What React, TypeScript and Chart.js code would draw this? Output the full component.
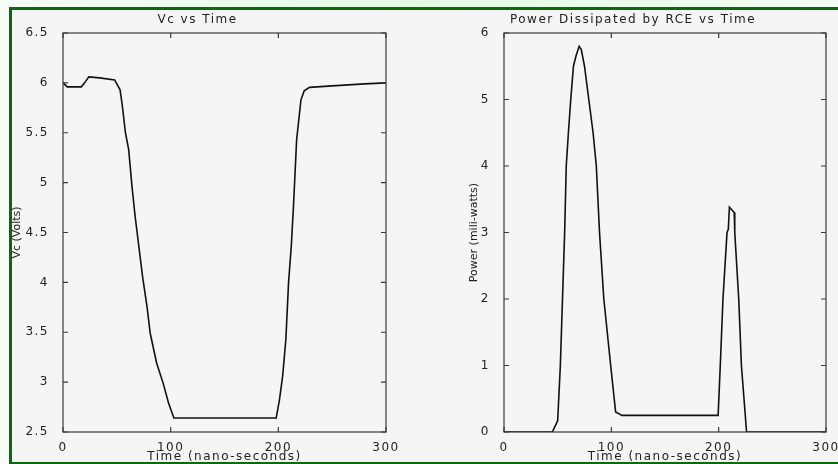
import React, { useEffect, useRef } from "react";
import { Chart, registerables } from "chart.js";

Chart.register(...registerables);

// ---- Data ----
const vcTime = [0, 4, 17, 20, 24, 34, 48, 53, 55, 58, 61, 64, 67, 70, 74, 78, 81, 87, 93, 98, 103, 198, 201, 204, 207, 209.5, 212, 214, 217, 221, 224, 229, 250, 280, 300];
const vcVolts = [6.0, 5.96, 5.96, 6.0, 6.06, 6.05, 6.03, 5.93, 5.78, 5.5, 5.33, 4.97, 4.66, 4.4, 4.05, 3.76, 3.49, 3.19, 2.99, 2.79, 2.64, 2.64, 2.82, 3.06, 3.43, 4.0, 4.36, 4.75, 5.43, 5.83, 5.92, 5.955, 5.97, 5.99, 6.0];

const pTime = [0, 45, 50, 52.5, 54.5, 56.5, 58, 60, 62.2, 64.7, 67, 70, 72, 75, 79, 83, 86, 89, 93, 99.4, 104, 110, 199.5, 201.5, 204, 207.8, 209, 210, 214.5, 215, 218.7, 221.2, 226, 300];
const pPower = [0, 0, 0.17, 1.0, 2.0, 3.0, 4.0, 4.5, 5.0, 5.5, 5.65, 5.8, 5.75, 5.5, 5.0, 4.5, 4.0, 3.0, 2.0, 1.0, 0.3, 0.25, 0.25, 1.0, 2.0, 3.0, 3.05, 3.38, 3.3, 3.0, 2.0, 1.0, 0, 0];

const xTicksMin = 0;
const xTicksMax = 300;
const xTickStep = 100;

const leftTitle = "Vc vs Time";
const rightTitle = "Power Dissipated by RCE vs Time";
const xAxisTitle = "Time (nano-seconds)";
const leftYTitle = "Vc (Volts)";
const rightYTitle = "Power (mili-watts)";

const FONT = "'DejaVu Sans', 'Liberation Sans', sans-serif";

const spacingPlugin = {
  id: "spacing",
  beforeDraw(chart: any) {
    chart.ctx.letterSpacing = "1.5px";
  },
};

const boxPlugin = {
  id: "matlabBox",
  afterDatasetsDraw(chart: any) {
    const { ctx, chartArea, scales } = chart;
    const { left, right, top, bottom } = chartArea;
    const tl = 5;
    ctx.save();
    ctx.strokeStyle = "#3a3a3a";
    ctx.lineWidth = 1.2;
    ctx.strokeRect(left, top, right - left, bottom - top);
    ctx.beginPath();
    scales.x.ticks.forEach((t: any) => {
      const px = scales.x.getPixelForValue(t.value);
      ctx.moveTo(px, bottom);
      ctx.lineTo(px, bottom - tl);
      ctx.moveTo(px, top);
      ctx.lineTo(px, top + tl);
    });
    scales.y.ticks.forEach((t: any) => {
      const py = scales.y.getPixelForValue(t.value);
      ctx.moveTo(left, py);
      ctx.lineTo(left + tl, py);
      ctx.moveTo(right, py);
      ctx.lineTo(right - tl, py);
    });
    ctx.stroke();
    ctx.restore();
  },
};

function makeConfig(o: {
  title: string;
  xs: number[];
  ys: number[];
  yMin: number;
  yMax: number;
  yStep: number;
  yTitle: string;
  yWidth: number;
  yTitlePad: number;
  padRight: number;
}) {
  const fmt = (v: any) => `${Number(v)}`;
  return {
    type: "line" as const,
    data: {
      datasets: [
        {
          data: o.xs.map((x, i) => ({ x, y: o.ys[i] })),
          borderColor: "#111",
          borderWidth: 1.6,
          pointRadius: 0,
          tension: 0,
          fill: false,
        },
      ],
    },
    plugins: [spacingPlugin, boxPlugin],
    options: {
      animation: false as const,
      responsive: false,
      layout: { padding: { left: 0, right: o.padRight, top: 0, bottom: 0 } },
      plugins: {
        legend: { display: false },
        tooltip: { enabled: false },
        title: {
          display: true,
          text: o.title,
          color: "#222",
          font: { family: FONT, size: 12, weight: "normal" as const, lineHeight: 1.2 },
          padding: { top: 2.8, bottom: 5.8 },
        },
      },
      scales: {
        x: {
          type: "linear" as const,
          min: xTicksMin,
          max: xTicksMax,
          grid: { display: false },
          border: { display: false },
          ticks: {
            stepSize: xTickStep,
            color: "#222",
            padding: 1,
            autoSkip: false,
            maxRotation: 0,
            callback: fmt,
            font: { family: FONT, size: 12, lineHeight: 1.2 },
          },
          title: {
            display: true,
            text: xAxisTitle,
            color: "#222",
            font: { family: FONT, size: 12, lineHeight: 1.2 },
            padding: { top: 0, bottom: 0 },
          },
          afterFit: (scale: any) => {
            scale.height = 32;
          },
        },
        y: {
          type: "linear" as const,
          min: o.yMin,
          max: o.yMax,
          grid: { display: false },
          border: { display: false },
          ticks: {
            stepSize: o.yStep,
            color: "#222",
            padding: 6,
            autoSkip: false,
            callback: fmt,
            font: { family: FONT, size: 12, lineHeight: 1.2 },
          },
          title: {
            display: true,
            text: o.yTitle,
            color: "#222",
            font: { family: FONT, size: 11, lineHeight: 1.2 },
            padding: { top: o.yTitlePad, bottom: 0 },
          },
          afterFit: (scale: any) => {
            scale.width = o.yWidth;
            if (!scale.__patched) {
              const orig = scale.drawTitle.bind(scale);
              scale.drawTitle = function () {
                const ctx = scale.ctx;
                const prev = ctx.letterSpacing;
                ctx.letterSpacing = "0px";
                orig();
                ctx.letterSpacing = prev;
              };
              scale.__patched = true;
            }
          },
        },
      },
    },
  };
}

export default function App() {
  const leftRef = useRef<HTMLCanvasElement>(null);
  const rightRef = useRef<HTMLCanvasElement>(null);

  useEffect(() => {
    const c1 = new Chart(
      leftRef.current as HTMLCanvasElement,
      makeConfig({
        title: leftTitle,
        xs: vcTime,
        ys: vcVolts,
        yMin: 2.5,
        yMax: 6.5,
        yStep: 0.5,
        yTitle: leftYTitle,
        yWidth: 54,
        yTitlePad: 2,
        padRight: 54,
      }) as any
    );
    const c2 = new Chart(
      rightRef.current as HTMLCanvasElement,
      makeConfig({
        title: rightTitle,
        xs: pTime,
        ys: pPower,
        yMin: 0,
        yMax: 6,
        yStep: 1,
        yTitle: rightYTitle,
        yWidth: 64,
        yTitlePad: 28,
        padRight: 66,
      }) as any
    );
    return () => {
      c1.destroy();
      c2.destroy();
    };
  }, []);

  return (
    <div
      style={{
        position: "fixed",
        left: 0,
        top: 0,
        width: 838,
        height: 464,
        overflow: "hidden",
        background: "linear-gradient(to right, #f6fdf6, #e2fae2 50%, #f3fdf3)",
      }}
    >
      <div
        style={{
          position: "absolute",
          left: 9,
          top: 7,
          right: 0,
          height: 457,
          boxSizing: "border-box",
          borderTop: "3px solid #0b680b",
          borderLeft: "3px solid #0b680b",
          borderBottom: "2px solid #0b680b",
          background: "#f5f5f5",
        }}
      />
      <canvas
        ref={leftRef}
        width={431}
        height={454}
        style={{ position: "absolute", left: 9, top: 10, width: 431, height: 454 }}
      />
      <canvas
        ref={rightRef}
        width={452}
        height={454}
        style={{ position: "absolute", left: 440, top: 10, width: 452, height: 454 }}
      />
    </div>
  );
}
